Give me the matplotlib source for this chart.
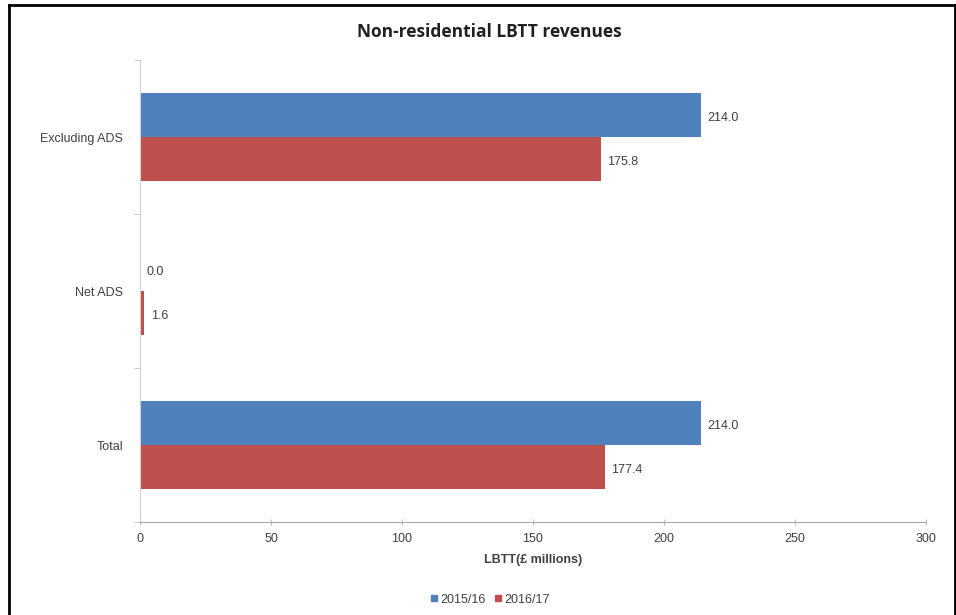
import matplotlib.pyplot as plt
import numpy as np
from matplotlib.patches import Rectangle
from matplotlib.lines import Line2D

categories = ["Excluding ADS", "Net ADS", "Total"]
series_names = ["2015/16", "2016/17"]
vals_1516 = [214.0, 0.0, 214.0]
vals_1617 = [175.8, 1.6, 177.4]
x_ticks = [0, 50, 100, 150, 200, 250, 300]

blue = "#4F81BD"
red = "#C0504D"
grey_text = "#404040"

plt.rcParams["font.family"] = ["Liberation Sans", "DejaVu Sans"]

fig = plt.figure(figsize=(9.56, 6.15), dpi=100)
ax = fig.add_axes([0.1464, 0.151, 0.8222, 0.7514])

pos = np.arange(len(categories))[::-1]
h = 0.285
b1 = ax.barh(pos + h / 2, vals_1516, height=h, color=blue, label=series_names[0])
b2 = ax.barh(pos - h / 2, vals_1617, height=h, color=red, label=series_names[1])

for bars, vals in [(b1, vals_1516), (b2, vals_1617)]:
    for bar, v in zip(bars, vals):
        ax.text(bar.get_width() + 2.5, bar.get_y() + bar.get_height() / 2 - 0.02,
                f"{v:.1f}", va="center", ha="left", fontsize=9, color=grey_text)

ax.set_xlim(0, 300)
ax.set_ylim(-0.5, 2.5)
ax.set_xticks(x_ticks)
ax.set_xticklabels([str(t) for t in x_ticks], fontsize=9, color=grey_text)
ax.set_yticks(pos)
ax.set_yticklabels(categories, fontsize=9, color=grey_text)
ax.set_yticks([-0.5, 0.5, 1.5, 2.5], minor=True)
ax.tick_params(axis="y", which="major", length=0, pad=12)
ax.tick_params(axis="y", which="minor", length=4, color="#BFBFBF", direction="out")
ax.tick_params(axis="x", length=4, color="#BFBFBF", direction="inout", pad=6)

for s in ["top", "right"]:
    ax.spines[s].set_visible(False)
ax.spines["left"].set_color("#D0D0D0")
ax.spines["bottom"].set_color("#A6A6A6")

ax.set_xlabel("LBTT(£ millions)", fontsize=9, fontweight="bold", color=grey_text, labelpad=6)

fig.text(0.512, 0.948, "Non-residential LBTT revenues", ha="center", va="center",
         fontsize=12.5, fontweight="bold", color="#202020", family=["Open Sans", "DejaVu Sans"])

handles = [Line2D([], [], marker="s", linestyle="", color=blue, markersize=5),
           Line2D([], [], marker="s", linestyle="", color=red, markersize=5)]
fig.legend(handles, series_names, loc="center", bbox_to_anchor=(0.512, 0.025), ncol=2,
           frameon=False, fontsize=9, handletextpad=0.1, columnspacing=0.6,
           labelcolor=grey_text, handlelength=0.8)

# outer frame like the source document
fig.add_artist(Line2D([0.0094, 0.0094], [0, 0.992], color="black", lw=2, transform=fig.transFigure))
fig.add_artist(Line2D([0.9985, 0.9985], [0, 0.992], color="black", lw=2, transform=fig.transFigure))
fig.add_artist(Line2D([0.0094, 0.9985], [0.992, 0.992], color="black", lw=2, transform=fig.transFigure))

fig.savefig("out.png", dpi=100)
